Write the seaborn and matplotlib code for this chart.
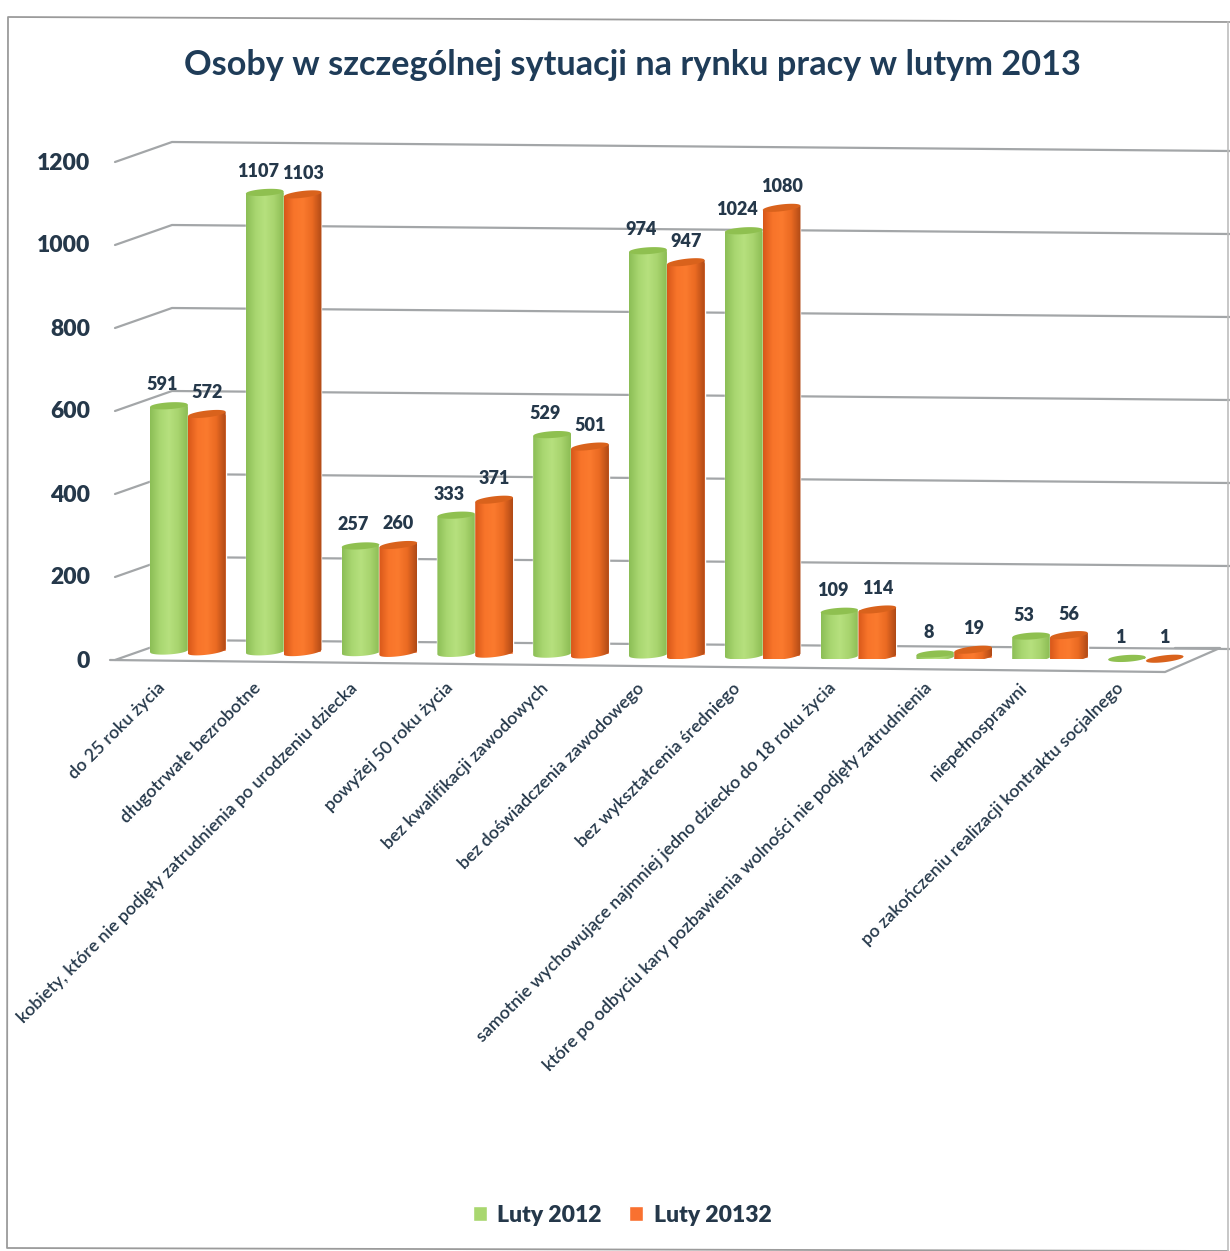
import matplotlib
matplotlib.use('Agg')
import matplotlib.pyplot as plt
from matplotlib.lines import Line2D
from matplotlib.path import Path
from matplotlib.transforms import Affine2D, ScaledTranslation
from matplotlib.colors import LinearSegmentedColormap
import numpy as np
import pandas as pd
import seaborn as sns

categories = ['do 25 roku życia',
              'długotrwałe bezrobotne',
              'kobiety, które nie podjęły zatrudnienia po urodzeniu dziecka',
              'powyżej 50 roku życia',
              'bez kwalifikacji zawodowych',
              'bez doświadczenia zawodowego',
              'bez wykształcenia średniego',
              'samotnie wychowujące najmniej jedno dziecko do 18 roku życia',
              'które po odbyciu kary pozbawienia wolności nie podjęły zatrudnienia',
              'niepełnosprawni',
              'po zakończeniu realizacji kontraktu socjalnego']
luty_2012 = [591, 1107, 257, 333, 529, 974, 1024, 109, 8, 53, 1]
luty_2013 = [572, 1103, 260, 371, 501, 947, 1080, 114, 19, 56, 1]
series_names = ['Luty 2012', 'Luty 20132']
y_ticks = [0, 200, 400, 600, 800, 1000, 1200]

W, H = 1230, 1251
NAVY = '#25384a'
GREEN_CM = LinearSegmentedColormap.from_list('g', ['#8cbe56', '#a8d670', '#b6e07e', '#a8d46e', '#8cbc54'])
ORANGE_CM = LinearSegmentedColormap.from_list('o', ['#d8581a', '#f8742a', '#fb7a2e', '#ea6a22', '#b04a16'])
CAP = {0: '#8fc050', 1: '#d9621c'}

sns.set_theme(style='white')
plt.rcParams['font.family'] = ['Lato', 'DejaVu Sans']

df = pd.DataFrame({'kategoria': categories * 2,
                   'osoby': luty_2012 + luty_2013,
                   'okres': [series_names[0]] * 11 + [series_names[1]] * 11})

fig = plt.figure(figsize=(W / 100, H / 100), dpi=100, facecolor='white')
ax = fig.add_axes([115 / W, (H - 659) / H, 1050 / W, 498 / H])
ax.patch.set_visible(False)
ax.set_zorder(2)

sns.barplot(data=df, x='kategoria', y='osoby', hue='okres', ax=ax, width=0.79, gap=0,
            palette=['#a9d76f', '#f97130'], saturation=1, legend=True)

xlim = (-0.76, 10.20)
ylim = (0, 1200)
ax.set_xlim(xlim)
ax.set_ylim(ylim)

# pixel coordinates from the top left, for the slanted walls only
px = Affine2D().scale(1, -1).translate(0, H)


def wall_line(xs, ys, color='#a3a6a8', lw=1.6):
    fig.add_artist(Line2D(xs, ys, transform=px, color=color, lw=lw, zorder=1))


for v in y_ticks:
    y = 659 - v * 498 / 1200
    wall_line([115, 172, 1230], [y + 1, y - 19, y - 10])
wall_line([110, 1165, 1220, 1175], [660, 672, 648, 648])

# edge of the scanned sheet
wall_line([1230, 8, 7, 1228], [22, 17, 1248, 1251], color='#9b9b9b', lw=1.3)
wall_line([1228, 1228], [22, 1251], color='#bdbdbd', lw=1.2)

# cylinders on top of the seaborn bars
unit = 1200 / 498
for s, cont in enumerate(ax.containers):
    cm = GREEN_CM if s == 0 else ORANGE_CM
    for i, bar in enumerate(cont):
        x0, x1 = bar.get_x(), bar.get_x() + bar.get_width()
        h = bar.get_height()
        xc = (x0 + x1) / 2
        xpix = ax.transData.transform((xc, 0))[0]
        lift = 659 - (651 + (xpix - 165) * 7 / 860)
        tr = ax.transData + Affine2D().translate(0, lift)
        z = 3 + i + s * 0.5
        bar.set_transform(tr)
        bar.set_zorder(z)
        bar.set_clip_on(False)

        t = np.linspace(-1, 1, 41)
        xs = xc + t * (x1 - x0) / 2
        arc = np.sqrt(1 - t ** 2) * 3.4 * unit
        tilt = t * (1.2 + s) * unit
        body = np.column_stack([np.r_[xs, xs[::-1]],
                                np.r_[-arc + tilt, (h + tilt)[::-1]]])
        grad = np.linspace(0, 1, 64).reshape(1, -1)
        im = ax.imshow(grad, cmap=cm, extent=(x0, x1, -6 * unit, h + 3 * unit), aspect='auto',
                       transform=tr, zorder=z + 0.1, interpolation='bilinear')
        im.set_clip_path(Path(body), tr)

        ax.fill(np.r_[xs, xs[::-1]], np.r_[h + tilt + arc, (h + tilt - arc)[::-1]],
                color=CAP[s], lw=0, transform=tr, zorder=z + 0.2, clip_on=False)

        nudge = -7 if s == 0 else 0
        ax.annotate(f'{int(h)}', (xc, h), xytext=(nudge * 0.72, 21 * 0.72), textcoords='offset points',
                    xycoords=tr, ha='center', va='center', fontsize=13, fontweight='heavy',
                    color=NAVY, zorder=40)

ax.set_xlim(xlim)
ax.set_ylim(ylim)
ax.set_xlabel('')
ax.set_ylabel('')
ax.set_yticks(y_ticks)
ax.tick_params(axis='y', length=0, pad=18, labelsize=16.5, labelcolor=NAVY)
for lab in ax.get_yticklabels():
    lab.set_fontweight('heavy')
ax.tick_params(axis='x', length=0, pad=15, labelsize=12.8, labelcolor=NAVY)
shift = ScaledTranslation(-22 / 72, 0, fig.dpi_scale_trans)
for lab in ax.get_xticklabels():
    lab.set_rotation(45)
    lab.set_ha('right')
    lab.set_rotation_mode('anchor')
    lab.set_fontweight('semibold')
    lab.set_transform(lab.get_transform() + shift)
sns.despine(ax=ax, left=True, bottom=True)

fig.text(632 / W, 1 - 65 / H, 'Osoby w szczególnej sytuacji na rynku pracy w lutym 2013',
         ha='center', va='center', fontsize=24.7, fontweight='bold', color='#1f3c58')

leg = ax.legend(loc='center', bbox_to_anchor=(622 / W, 1 - 1215 / H), bbox_transform=fig.transFigure,
                ncol=2, frameon=False, handlelength=0.62, handleheight=0.62, handletextpad=0.45,
                columnspacing=1.2, prop={'size': 16.5, 'weight': 'heavy'}, title=None)
for txt in leg.get_texts():
    txt.set_color(NAVY)

fig.savefig('out.png', dpi=100, facecolor='white')
